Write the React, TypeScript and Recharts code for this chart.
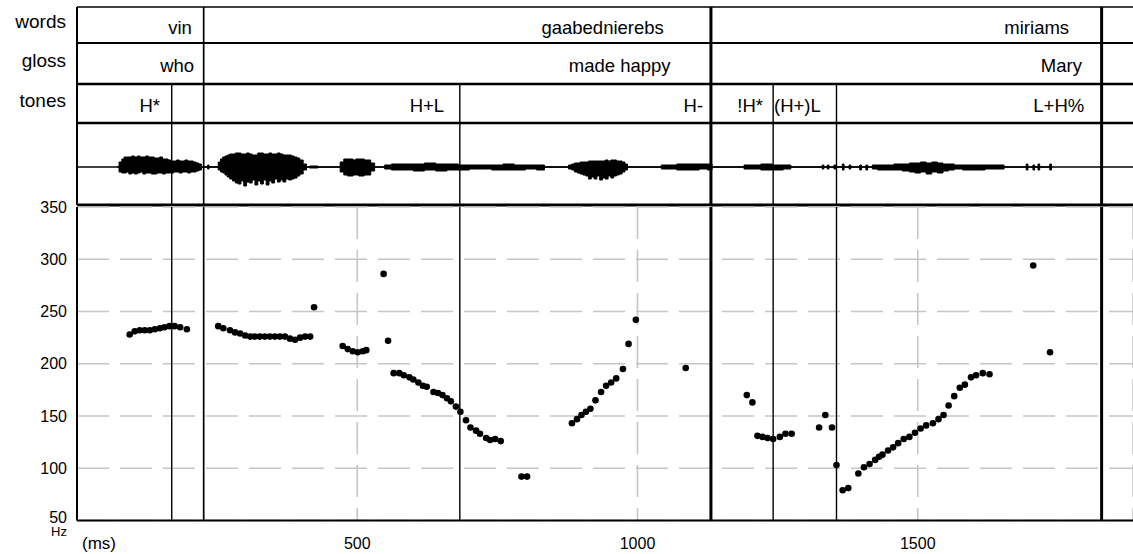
import {
  Area,
  CartesianGrid,
  ComposedChart,
  ReferenceLine,
  Scatter,
  XAxis,
  YAxis,
} from "recharts";

const WIDTH = 1133;
const AXIS_W = 77;
const T_MAX = 1884;
const FONT = '"Liberation Sans", Arial, Helvetica, sans-serif';

// annotation tiers (times in ms)
const WORDS = ["vin", "gaabednierebs", "miriams"];
const WORD_LABEL_AT = [205, 1047, 1770];
const GLOSS = ["who", "made happy", "Mary"];
const GLOSS_LABEL_AT = [209, 1059, 1793];
const WORD_ENDS = [226, 1131, 1828];
const PHRASE_ENDS = [1131, 1828];
const TONES = ["H*", "H+L", "H-", "!H*", "(H+)L", "L+H%"];
const TONE_LABEL_AT = [148, 655, 1117, 1224, 1327, 1797];
const TONE_BOUNDS = [169, 683, 1242, 1355];

// pitch track
const F0_MS = [
  94, 103, 112, 121, 130, 139, 148, 156, 165, 174, 184, 196,
  252, 261, 273, 282, 291, 300, 309, 317, 326, 335, 344, 353, 362, 371, 380, 389, 398, 407, 416,
  423,
  474, 483, 492, 501, 510, 516,
  547, 555,
  565, 575, 583, 593, 600, 609, 617, 624, 636, 644, 652, 660, 667, 676, 684, 694, 702, 712, 719, 730, 737, 746, 756,
  793, 803,
  883, 892, 900, 908, 916, 925, 935, 944, 953, 962, 974, 984, 997,
  1086,
  1195, 1205, 1214, 1223, 1232, 1242, 1254, 1264, 1275,
  1324, 1335, 1347, 1355,
  1366, 1376,
  1394, 1404, 1414, 1424, 1431, 1437, 1447, 1456, 1465, 1475, 1485, 1495, 1505, 1515, 1527, 1537, 1546,
  1555, 1565, 1575, 1584, 1595, 1604, 1616, 1628,
  1706, 1736,
];
const F0_HZ = [
  228, 231, 232, 232, 232, 233, 234, 235, 236, 236, 235, 233,
  236, 234, 232, 230, 229, 227, 226, 226, 226, 226, 226, 226, 226, 226, 224, 223, 225, 226, 226,
  254,
  217, 214, 212, 211, 212, 213,
  286, 222,
  191, 191, 189, 187, 185, 182, 179, 178, 173, 172, 170, 167, 164, 159, 154, 146, 139, 136, 133, 129, 127, 128, 126,
  92, 92,
  143, 147, 151, 154, 157, 165, 173, 179, 182, 186, 195, 219, 242,
  196,
  170, 163, 131, 130, 129, 128, 130, 133, 133,
  139, 151, 139, 103,
  79, 81,
  95, 101, 104, 108, 111, 113, 117, 120, 124, 128, 130, 134, 138, 141, 143, 147, 151,
  160, 169, 177, 180, 187, 189, 191, 190,
  294, 211,
];
const HZ_TICKS = [50, 100, 150, 200, 250, 300, 350];
const MS_TICKS = [0, 500, 1000, 1500];

// waveform envelope (relative amplitude above / below the zero line)
const WAVE_MS = [
  72, 78, 82, 86, 90, 95, 100, 105, 110, 115, 120, 125, 130, 135, 140, 145, 150, 155, 160, 165,
  170, 175, 180, 185, 190, 195, 200, 205, 210, 215, 220, 224,
  232, 234, 237,
  250, 254, 258, 262, 266, 270, 275, 280, 285, 290, 295, 300, 305, 310, 315, 320, 325, 330, 335,
  340, 345, 350, 355, 360, 365, 370, 375, 380, 385, 390, 395, 400, 407, 412,
  418, 428, 431,
  467, 472, 480, 485, 490, 495, 500, 505, 510, 515, 520, 528, 534,
  546, 552, 570, 590, 610, 630, 650, 670, 690, 710, 730, 750, 770, 790, 810, 830, 838,
  874, 880, 885, 890, 895, 900, 905, 910, 915, 920, 925, 930, 935, 940, 945, 950, 955, 960, 965,
  970, 975, 980, 984,
  1040, 1045, 1060, 1080, 1100, 1120, 1130, 1136,
  1188, 1192, 1210, 1230, 1250, 1270, 1277,
  1328, 1331, 1334, 1337, 1340, 1343, 1349, 1352, 1355,
  1364, 1367, 1370, 1376, 1379, 1382, 1395, 1398, 1401, 1406, 1409, 1412,
  1416, 1422, 1435, 1450, 1465, 1480, 1490, 1500, 1510, 1520, 1530, 1540, 1550, 1560, 1570, 1590,
  1610, 1630, 1650, 1658,
  1692, 1695, 1698, 1704, 1707, 1710, 1713, 1716, 1719, 1734, 1737, 1740,
];
const WAVE_HI = [
  0, 5, 8, 10, 10, 10, 11, 10, 11, 10, 10, 11, 10, 10, 9, 9, 10, 8, 8, 7,
  6, 6, 7, 6, 6, 7, 6, 6, 5, 4, 3, 0,
  0, 2, 0,
  0, 5, 8, 10, 11, 12, 13, 13, 14, 14, 13, 13, 14, 13, 12, 12, 14, 14, 13,
  13, 14, 13, 13, 14, 13, 12, 12, 12, 11, 10, 9, 7, 3, 0,
  1, 1, 0,
  0, 5, 8, 8, 8, 7, 8, 8, 8, 7, 7, 4, 0,
  0, 2, 3, 3, 3, 4, 3, 3, 2, 2, 2, 2, 3, 2, 2, 2, 0,
  0, 2, 3, 4, 4, 5, 5, 5, 6, 6, 6, 6, 6, 6, 7, 6, 7, 7, 6,
  6, 5, 3, 0,
  0, 2, 2, 3, 3, 3, 3, 0,
  0, 2, 2, 3, 2, 2, 0,
  0, 2, 0, 0, 2, 0, 0, 2, 0,
  0, 3, 0, 0, 2, 0, 0, 2, 0, 0, 2, 0,
  0, 2, 2, 2, 3, 3, 4, 4, 5, 4, 5, 4, 3, 3, 2, 2,
  2, 2, 2, 0,
  0, 3, 0, 0, 2, 0, 0, 3, 0, 0, 3, 0,
];
const WAVE_LO = [
  0, -5, -6, -6, -5, -7, -6, -7, -6, -5, -7, -6, -6, -7, -7, -6, -6, -7, -6, -6,
  -6, -5, -5, -6, -5, -5, -6, -5, -5, -4, -3, 0,
  0, -2, 0,
  0, -3, -5, -6, -8, -10, -12, -14, -16, -17, -14, -19, -15, -16, -13, -18, -14, -17, -13,
  -18, -14, -16, -12, -15, -13, -15, -12, -13, -12, -11, -9, -7, -3, 0,
  -1, -1, 0,
  0, -5, -8, -9, -9, -8, -8, -9, -9, -8, -8, -4, 0,
  0, -2, -3, -3, -4, -3, -4, -3, -3, -2, -2, -3, -3, -3, -2, -3, 0,
  0, -2, -3, -5, -6, -7, -8, -9, -12, -10, -12, -9, -13, -11, -12, -9, -11, -9, -8,
  -7, -5, -3, 0,
  0, -2, -2, -3, -3, -2, -3, 0,
  0, -2, -2, -3, -3, -2, 0,
  0, -2, 0, 0, -2, 0, 0, -2, 0,
  0, -3, 0, 0, -2, 0, 0, -3, 0, 0, -3, 0,
  0, -2, -3, -3, -3, -4, -5, -6, -5, -7, -5, -6, -4, -3, -2, -3,
  -3, -2, -2, 0,
  0, -3, 0, 0, -3, 0, 0, -3, 0, 0, -3, 0,
];

const INK = "#000";

function boundaryLines(withTones: boolean) {
  const lines = WORD_ENDS.map((t) => (
    <ReferenceLine
      key={`w${t}`}
      x={t}
      stroke={INK}
      strokeWidth={PHRASE_ENDS.includes(t) ? 3 : 1.7}
    />
  ));
  if (withTones) {
    TONE_BOUNDS.forEach((t) =>
      lines.push(<ReferenceLine key={`t${t}`} x={t} stroke={INK} strokeWidth={1.4} />),
    );
  }
  lines.push(<ReferenceLine key="left" x={0} stroke={INK} strokeWidth={2} />);
  return lines;
}

type TierProps = {
  name: string;
  labels: string[];
  labelAt: number[];
  top: number;
  height: number;
  topLine: number;
  withTones: boolean;
};

function Tier({ name, labels, labelAt, top, height, topLine, withTones }: TierProps) {
  const pad = 2;
  const data = labels.map((text, i) => ({ t: labelAt[i], y: 0.5, text }));
  return (
    <div style={{ position: "absolute", left: 0, top: top - pad, width: WIDTH, height: height + pad }}>
      <ComposedChart
        width={WIDTH}
        height={height + pad}
        data={data}
        margin={{ top: pad, right: 0, bottom: 0, left: 0 }}
      >
        <XAxis type="number" dataKey="t" domain={[0, T_MAX]} allowDataOverflow hide />
        <YAxis
          type="number"
          domain={[0, 1]}
          ticks={[0.5]}
          width={AXIS_W}
          axisLine={false}
          tickLine={false}
          tick={(p: any) => (
            <text x={p.x - 3} y={p.y + 3} textAnchor="end" fontSize={19} fontFamily={FONT} fill={INK}>
              {name}
            </text>
          )}
        />
        <ReferenceLine y={1} stroke={INK} strokeWidth={topLine} />
        {boundaryLines(withTones)}
        <Scatter
          dataKey="y"
          isAnimationActive={false}
          shape={(p: any) => (
            <text x={p.cx} y={p.cy + 8.5} textAnchor="end" fontSize={18.5} fontFamily={FONT} fill={INK}>
              {p.payload.text}
            </text>
          )}
        />
      </ComposedChart>
    </div>
  );
}

function Waveform() {
  const data = WAVE_MS.map((t, i) => ({ t, env: [WAVE_LO[i], WAVE_HI[i]] }));
  return (
    <div style={{ position: "absolute", left: 0, top: 121, width: WIDTH, height: 88 }}>
      <ComposedChart
        width={WIDTH}
        height={88}
        data={data}
        margin={{ top: 2, right: 0, bottom: 4, left: AXIS_W }}
      >
        <XAxis type="number" dataKey="t" domain={[0, T_MAX]} allowDataOverflow hide />
        <YAxis type="number" domain={[-38, 44]} allowDataOverflow hide />
        <ReferenceLine y={0} stroke={INK} strokeWidth={1.3} />
        <Area
          dataKey="env"
          type="step"
          stroke={INK}
          strokeWidth={1}
          fill={INK}
          fillOpacity={1}
          dot={false}
          activeDot={false}
          isAnimationActive={false}
        />
        <ReferenceLine y={44} stroke={INK} strokeWidth={2.7} />
        <ReferenceLine y={-38} stroke={INK} strokeWidth={3} />
        {boundaryLines(true)}
      </ComposedChart>
    </div>
  );
}

function MsTick(p: any) {
  const v = p.payload.value;
  if (v === 0) {
    return (
      <text x={p.x + 5} y={p.y + 20} textAnchor="start" fontSize={17} fontFamily={FONT} fill={INK}>
        (ms)
      </text>
    );
  }
  return (
    <text x={p.x} y={p.y + 20} textAnchor="middle" fontSize={16} fontFamily={FONT} fill={INK}>
      {v}
    </text>
  );
}

function HzTick(p: any) {
  const v = p.payload.value;
  return (
    <g>
      <text x={p.x - 2} y={p.y + (v === 50 ? 2 : 5.5)} textAnchor="end" fontSize={16} fontFamily={FONT} fill={INK}>
        {v}
      </text>
      {v === 50 ? (
        <text x={p.x - 2} y={p.y + 15} textAnchor="end" fontSize={13} fontFamily={FONT} fill={INK}>
          Hz
        </text>
      ) : null}
    </g>
  );
}

function Pitch() {
  const data = F0_MS.map((t, i) => ({ t, hz: F0_HZ[i] }));
  return (
    <div style={{ position: "absolute", left: 0, top: 200, width: WIDTH, height: 354 }}>
      <ComposedChart
        width={WIDTH}
        height={354}
        data={data}
        margin={{ top: 7, right: 0, bottom: 0, left: 0 }}
      >
        <CartesianGrid stroke="#c6c6c6" strokeWidth={1.6} strokeDasharray="32 11" />
        <XAxis
          type="number"
          dataKey="t"
          domain={[0, T_MAX]}
          ticks={MS_TICKS}
          interval={0}
          allowDataOverflow
          height={33.5}
          axisLine={{ stroke: INK, strokeWidth: 2 }}
          tickLine={false}
          tick={MsTick}
        />
        <YAxis
          type="number"
          dataKey="hz"
          domain={[50, 350]}
          ticks={HZ_TICKS}
          interval={0}
          width={AXIS_W}
          axisLine={false}
          tickLine={false}
          tick={HzTick}
        />
        {boundaryLines(true)}
        <Scatter
          dataKey="hz"
          isAnimationActive={false}
          shape={(p: any) => <circle cx={p.cx} cy={p.cy} r={3.3} fill={INK} />}
        />
      </ComposedChart>
    </div>
  );
}

export default function App() {
  return (
    <div
      style={{
        position: "absolute",
        left: 0,
        top: 0,
        width: WIDTH,
        height: 554,
        overflow: "hidden",
        background: "#fff",
        fontFamily: FONT,
      }}
    >
      <Tier name="words" labels={WORDS} labelAt={WORD_LABEL_AT} top={7} height={36} topLine={1.7} withTones={false} />
      <Tier name="gloss" labels={GLOSS} labelAt={GLOSS_LABEL_AT} top={43} height={41} topLine={2.2} withTones={false} />
      <Tier name="tones" labels={TONES} labelAt={TONE_LABEL_AT} top={84} height={39} topLine={2.7} withTones />
      <Waveform />
      <Pitch />
    </div>
  );
}
